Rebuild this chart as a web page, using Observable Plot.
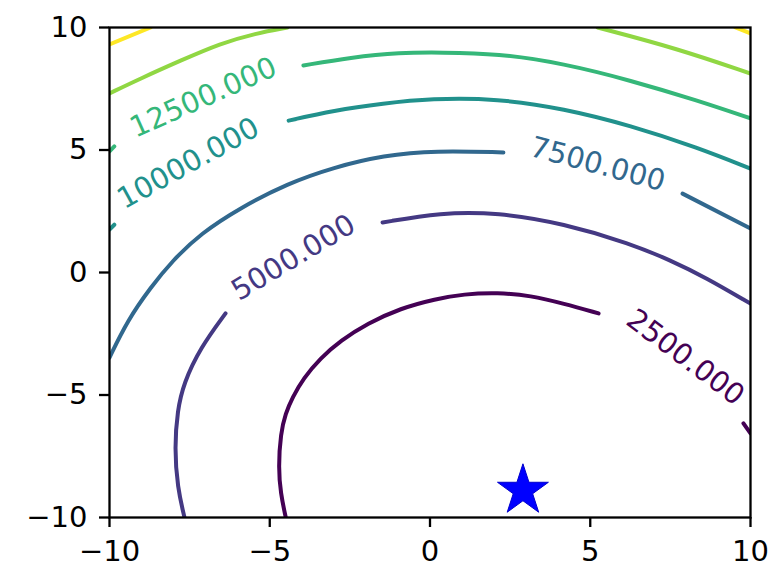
<!DOCTYPE html>
<html>
<head>
<meta charset="utf-8">
<script src="https://cdn.jsdelivr.net/npm/d3@7"></script>
<script src="https://cdn.jsdelivr.net/npm/@observablehq/plot@0.6"></script>
<style>
  html, body { margin: 0; padding: 0; background: white; }
</style>
</head>
<body>
<div id="chart"></div>
<script>
// ---- Data (data units) ----
const levels = [2500, 5000, 7500, 10000, 12500, 15000, 17500];
const ticks = [-10, -5, 0, 5, 10];

// Each contour level: list of visible segments (broken by inline labels), each a list of [x, y]
const c2500 = [
  [[-4.5,-10],[-4.66,-9.02],[-4.73,-7.96],[-4.66,-6.57],[-4.51,-5.76],[-4.29,-5.10],[-3.95,-4.32],[-3.42,-3.50],[-2.79,-2.78],[-1.95,-2.08],[-0.92,-1.46],[0.17,-1.08],[1.05,-0.88],[2.11,-0.82],[3.14,-0.94],[4.17,-1.27],[5.26,-1.67]],
  [[9.78,-6.16],[10,-6.57]]
];
const c5000 = [
  [[-7.66,-10],[-7.88,-8.78],[-7.97,-7.14],[-7.88,-5.63],[-7.69,-4.53],[-7.16,-3.06],[-6.38,-1.67]],
  [[-1.48,2.04],[0.33,2.45],[2.11,2.45],[4.17,2.0],[6.26,1.18],[7.5,0.5],[8.6,-0.2],[10,-1.27]]
];
const c7500 = [
  [[-10,-3.47],[-9.44,-1.96],[-8.72,-0.61],[-8.03,0.49],[-7.16,1.59],[-5.91,2.65],[-4.45,3.63],[-3.01,4.29],[-1.45,4.78],[0.17,4.98],[2.29,4.9]],
  [[7.88,3.22],[10,1.80]]
];
const c10000 = [
  [[-10,1.75],[-9.85,1.95]],
  [[-4.41,6.20],[-3.01,6.61],[-1.45,6.90],[0.02,7.10],[2.11,7.10],[4.17,6.69],[6.26,6.0],[8.35,5.10],[10,4.24]]
];
const c12500 = [
  [[-10,4.95],[-9.85,5.15]],
  [[-3.95,8.45],[-2.48,8.78],[-0.92,8.98],[0.33,8.98],[2.11,8.94],[4.17,8.53],[6.26,7.84],[8.35,7.02],[10,6.29]]
];
const c15000 = [
  [[-10,7.31],[-9.03,7.92],[-7.78,8.65],[-6.54,9.35],[-5.44,9.76],[-4.45,10]],
  [[5.23,10],[7.72,9.14],[10,8.12]]
];
const c17500 = [
  [[-10,9.31],[-8.72,10]],
  [[9.53,10],[10,9.76]]
];

// Inline contour labels
const labelLevel = [2500, 5000, 7500, 10000, 12500];
const labelX = [7.97, -4.26, 5.23, -7.54, -7.07];
const labelY = [-3.47, 0.61, 4.41, 4.45, 7.14];
const labelAngle = [37, -31, 15, -29, -24];

// Star marker (minimum)
const starX = [2.9];
const starY = [-8.9];

// ---- Build tables ----
const contourSets = [c2500, c5000, c7500, c10000, c12500, c15000, c17500];
const lineRows = [];
contourSets.forEach((segs, li) => {
  segs.forEach((seg, si) => {
    seg.forEach(([x, y]) => lineRows.push({x, y, level: levels[li], seg: levels[li] + "-" + si}));
  });
});
const labelRows = labelLevel.map((lev, i) => ({level: lev, x: labelX[i], y: labelY[i], angle: labelAngle[i]}));
const starRows = starX.map((x, i) => ({x, y: starY[i]}));

const fmtLevel = d3.format(".3f");
const fmtTick = d3.format("d");

const chart = Plot.plot({
  width: 770,
  height: 584,
  marginLeft: 109,
  marginRight: 20,
  marginTop: 27,
  marginBottom: 67,
  style: {fontFamily: "DejaVu Sans", fontSize: "29px", background: "white", color: "black"},
  x: {domain: [-10, 10]},
  y: {domain: [-10, 10]},
  color: {type: "linear", scheme: "viridis", domain: [2500, 17500]},
  marks: [
    Plot.line(lineRows, {x: "x", y: "y", z: "seg", stroke: "level", strokeWidth: 4, curve: "basis", clip: true}),
    Plot.text(labelRows, {x: "x", y: "y", text: d => fmtLevel(d.level), rotate: "angle", fill: "level", fontSize: 29, textAnchor: "middle", lineAnchor: "middle"}),
    Plot.dot(starRows, {x: "x", y: "y", symbol: "star", r: 16, fill: "#0000ff", stroke: "#0000cc", strokeWidth: 1}),
    Plot.frame({stroke: "black", strokeWidth: 2.3}),
    Plot.axisX({ticks, tickSize: 10, tickPadding: 13, tickFormat: fmtTick, fontSize: 29, label: null, strokeWidth: 2.3}),
    Plot.axisY({ticks, tickSize: 10, tickPadding: 12, tickFormat: fmtTick, fontSize: 29, label: null, strokeWidth: 2.3})
  ]
});
document.getElementById("chart").appendChild(chart);
</script>
</body>
</html>
